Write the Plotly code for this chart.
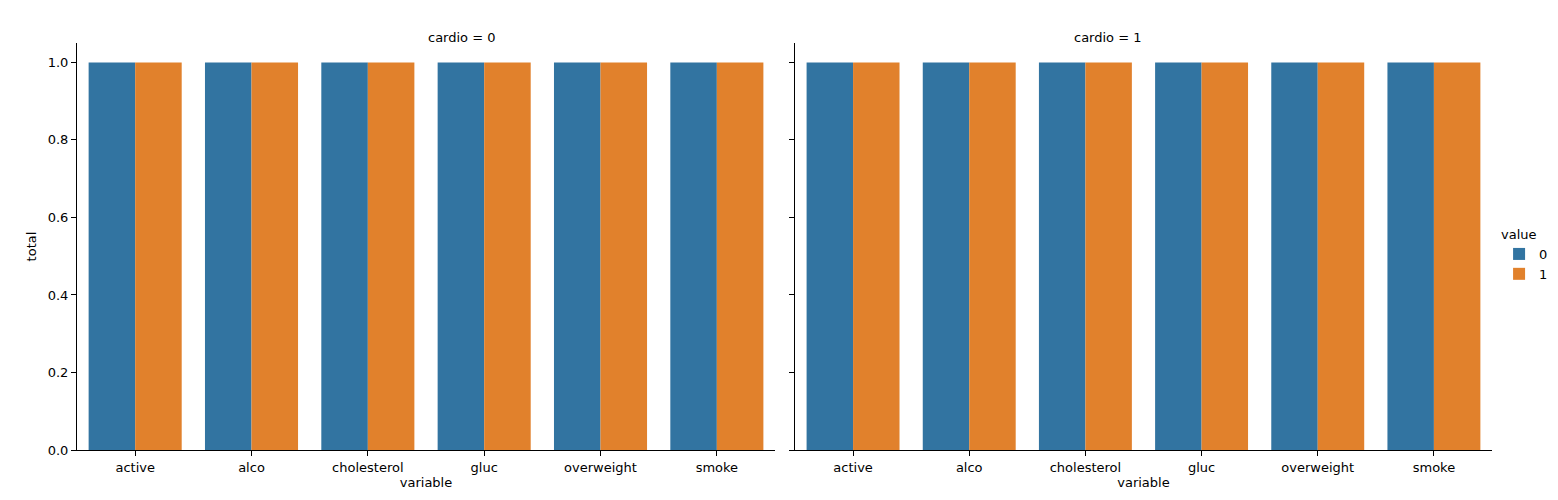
import plotly.graph_objects as go

variables = ["active", "alco", "cholesterol", "gluc", "overweight", "smoke"]
cardio_levels = [0, 1]
value_levels = ["0", "1"]
# total per (cardio, value) -> list over variables
totals = {
    (0, "0"): [1, 1, 1, 1, 1, 1],
    (0, "1"): [1, 1, 1, 1, 1, 1],
    (1, "0"): [1, 1, 1, 1, 1, 1],
    (1, "1"): [1, 1, 1, 1, 1, 1],
}
colors = {"0": "#3274a1", "1": "#e1812c"}

font = dict(family="DejaVu Sans", size=13, color="black")
fig = go.Figure()
for i, c in enumerate(cardio_levels):
    ax = "" if i == 0 else "2"
    for v in value_levels:
        fig.add_trace(go.Bar(
            x=variables, y=totals[(c, v)], name=v, marker_color=colors[v],
            marker_line_width=0, showlegend=(i == 0), legendgroup=v,
            xaxis="x" + ax, yaxis="y" + ax))

axis_common = dict(showline=True, linecolor="black", linewidth=1, ticks="outside",
                   ticklen=5, tickcolor="black", showgrid=False, zeroline=False,
                   tickfont=font, automargin=False)
fig.update_layout(
    width=1558, height=500, margin=dict(l=69, r=74, t=35, b=58, autoexpand=False),
    plot_bgcolor="white", paper_bgcolor="white", font=font,
    barmode="group", bargap=0.2, bargroupgap=0,
    xaxis=dict(domain=[0, 0.4933], title=dict(text="variable", font=font, standoff=2), **axis_common),
    xaxis2=dict(domain=[0.5074, 1], title=dict(text="variable", font=font, standoff=2), **axis_common),
    yaxis=dict(domain=[0, 1], range=[0, 1.05], tickvals=[0, 0.2, 0.4, 0.6, 0.8, 1.0],
               tickformat=".1f", title=dict(text="total", font=font, standoff=8), **axis_common),
    yaxis2=dict(domain=[0, 1], range=[0, 1.05], tickvals=[0, 0.2, 0.4, 0.6, 0.8, 1.0],
                showticklabels=False, anchor="x2", **axis_common),
    legend=dict(title=dict(text="value", side="top", font=font), x=1.005, y=0.56,
                xanchor="left", yanchor="top", font=font, bgcolor="rgba(0,0,0,0)",
                tracegroupgap=0),
    annotations=[
        dict(text="cardio = 0", x=0.2467, y=1.037, xref="paper", yref="paper",
             showarrow=False, font=font),
        dict(text="cardio = 1", x=0.7537, y=1.037, xref="paper", yref="paper",
             showarrow=False, font=font),
    ],
)
fig.write_html("out.html")
